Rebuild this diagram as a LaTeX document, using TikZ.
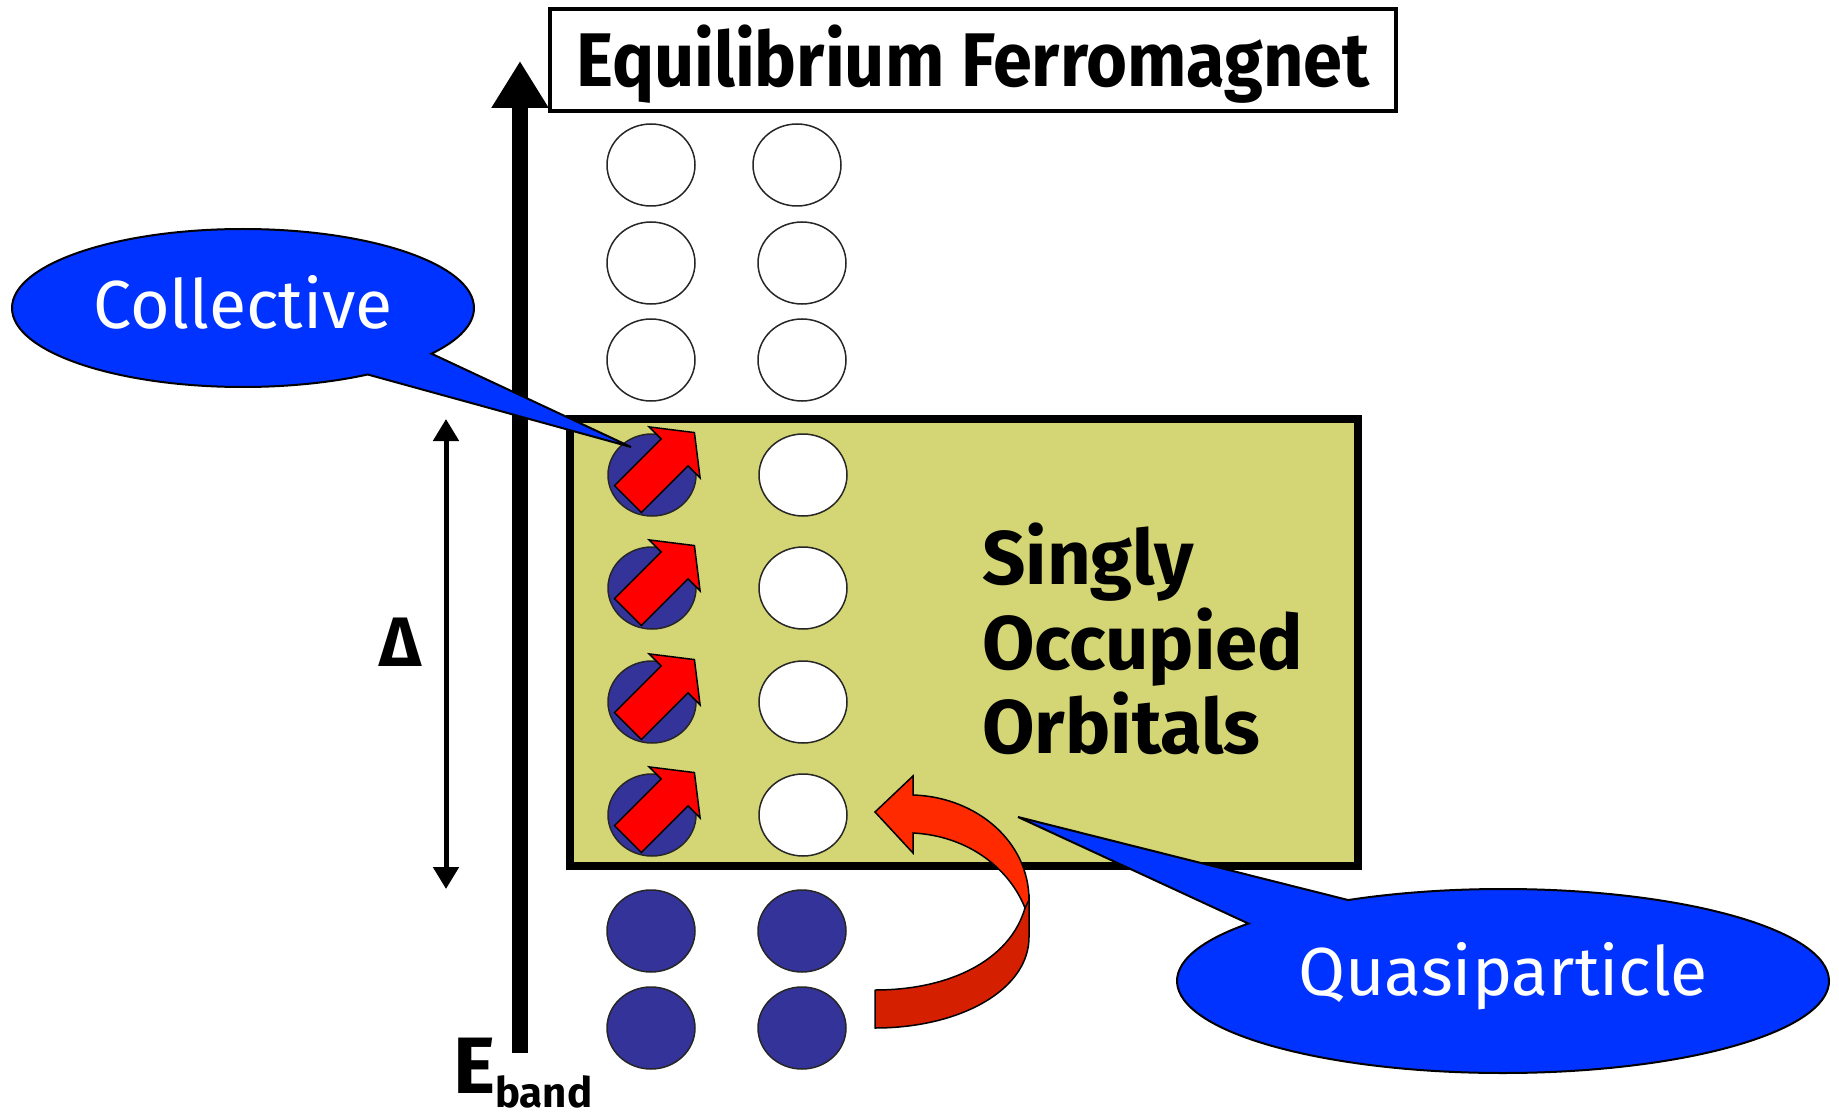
\documentclass[tikz,border=0pt]{standalone}
\usepackage{fontspec}
\setmainfont{Fira Sans}
\usetikzlibrary{arrows.meta,shapes.callouts,shapes.geometric}
\definecolor{boxfill}{RGB}{212,213,117}
\definecolor{callblue}{RGB}{0,51,255}
\definecolor{eblue}{RGB}{51,51,153}
\definecolor{spinred}{RGB}{255,0,0}
\definecolor{curvelight}{RGB}{255,42,0}
\definecolor{curvedark}{RGB}{212,32,0}
\tikzset{
  orb/.style={ellipse, draw=black!85, line width=1.5pt, minimum width=88pt, minimum height=82pt, inner sep=0pt},
  orbE/.style={orb, fill=white},
  orbF/.style={orb, fill=eblue},
  bubble/.style={ellipse callout, draw=black, line width=2pt, fill=callblue, text=white, inner sep=0pt, font=\fontsize{68}{68}\selectfont},
  bt/.style={font=\fontsize{76}{76}\selectfont\bfseries, inner sep=0pt, anchor=base west},
  spinshape/.style={fill=spinred, draw=black, line width=1.5pt, line join=miter},
  spinarrow/.pic={\path[spinshape, rotate=45] (-34,-19) -- (32,-19) -- (32,-36) -- (60,0) -- (32,36) -- (32,19) -- (-34,19) -- cycle;}
}
\begin{document}
\begin{tikzpicture}[x=1pt,y=-1pt]
\useasboundingbox (0,0) rectangle (1839,1115);
% energy axis
\coordinate (axbot) at (520,1053);
\coordinate (axtop) at (520,61);
\draw[line width=16pt, -{Triangle[width=54pt,length=47pt]}] (axbot) -- (axtop);
% gap arrow
\coordinate (gaptop) at (446,419);
\coordinate (gapbot) at (446,889);
\draw[line width=5pt, {Triangle[width=25pt,length=22pt]}-{Triangle[width=25pt,length=22pt]}] (gaptop) -- (gapbot);
\node[font=\fontsize{70}{70}\selectfont\bfseries, inner sep=0pt] (delta) at (400,642) {Δ};
\node[bt, font=\fontsize{80}{80}\selectfont\bfseries] (eband) at (453,1093) {E\raisebox{-14pt}{\fontsize{42}{42}\selectfont band}};
% title
\node[draw, line width=4.5pt, minimum width=846pt, minimum height=102pt, inner sep=0pt,
      text height=54pt, text depth=0pt, font=\fontsize{76}{76}\selectfont\bfseries] (title) at (973,60) {\scalebox{0.925}[1]{Equilibrium Ferromagnet}};
% box
\node[draw, line width=8pt, fill=boxfill, minimum width=788pt, minimum height=447pt, inner sep=0pt] (box) at (964,642.5) {};
% orbitals
\node[orbE] (o1a) at (651,165) {};
\node[orbE] (o1b) at (797,165) {};
\node[orbE] (o2a) at (651,263) {};
\node[orbE] (o2b) at (802,263) {};
\node[orbE] (o3a) at (651,360) {};
\node[orbE] (o3b) at (802,360) {};
\node[orbF] (o4a) at (652,475) {};
\node[orbE] (o4b) at (803,475) {};
\node[orbF] (o5a) at (652,588) {};
\node[orbE] (o5b) at (803,588) {};
\node[orbF] (o6a) at (652,702) {};
\node[orbE] (o6b) at (803,702) {};
\node[orbF] (o7a) at (652,815) {};
\node[orbE] (o7b) at (803,815) {};
\node[orbF] (o8a) at (651,931) {};
\node[orbF] (o8b) at (802,931) {};
\node[orbF] (o9a) at (651,1028) {};
\node[orbF] (o9b) at (802,1028) {};
\pic at (o4a) {spinarrow};
\pic at (o5a) {spinarrow};
\pic at (o6a) {spinarrow};
\pic at (o7a) {spinarrow};
% box text
\node[bt] (t1) at (982,584) {Singly};
\node[bt] (t2) at (982,669) {Occupied};
\node[bt] (t3) at (982,753) {Orbitals};
% curved arrow
\path[fill=curvedark, draw=black, line width=1.5pt, line join=round]
  (1029,895) -- (1029,937) .. controls (1029,990) and (960,1028) .. (875,1028)
  -- (875,990) .. controls (950,990) and (1010,960) .. (1025,908) -- cycle;
\path[fill=curvelight, draw=black, line width=1.5pt, line join=miter]
  (875,812) -- (913,776) -- (913,795) .. controls (977,797) and (1029,842) .. (1029,900)
  -- (1025,908) .. controls (1010,870) and (970,836) .. (913,833) -- (913,853) -- cycle;
% callouts
\coordinate (colltip) at (631,447);
\coordinate (quasitip) at (1018,817);
\node[bubble, minimum width=462pt, minimum height=158pt, callout absolute pointer={(colltip)}, callout pointer arc=22,
      text height=40pt, text depth=0pt] (coll) at (243,308) {Collective};
\node[bubble, minimum width=652pt, minimum height=184pt, callout absolute pointer={(quasitip)}, callout pointer arc=23,
      text height=28pt, text depth=0pt] (quasi) at (1503,981) {Quasiparticle};
\end{tikzpicture}
\end{document}
